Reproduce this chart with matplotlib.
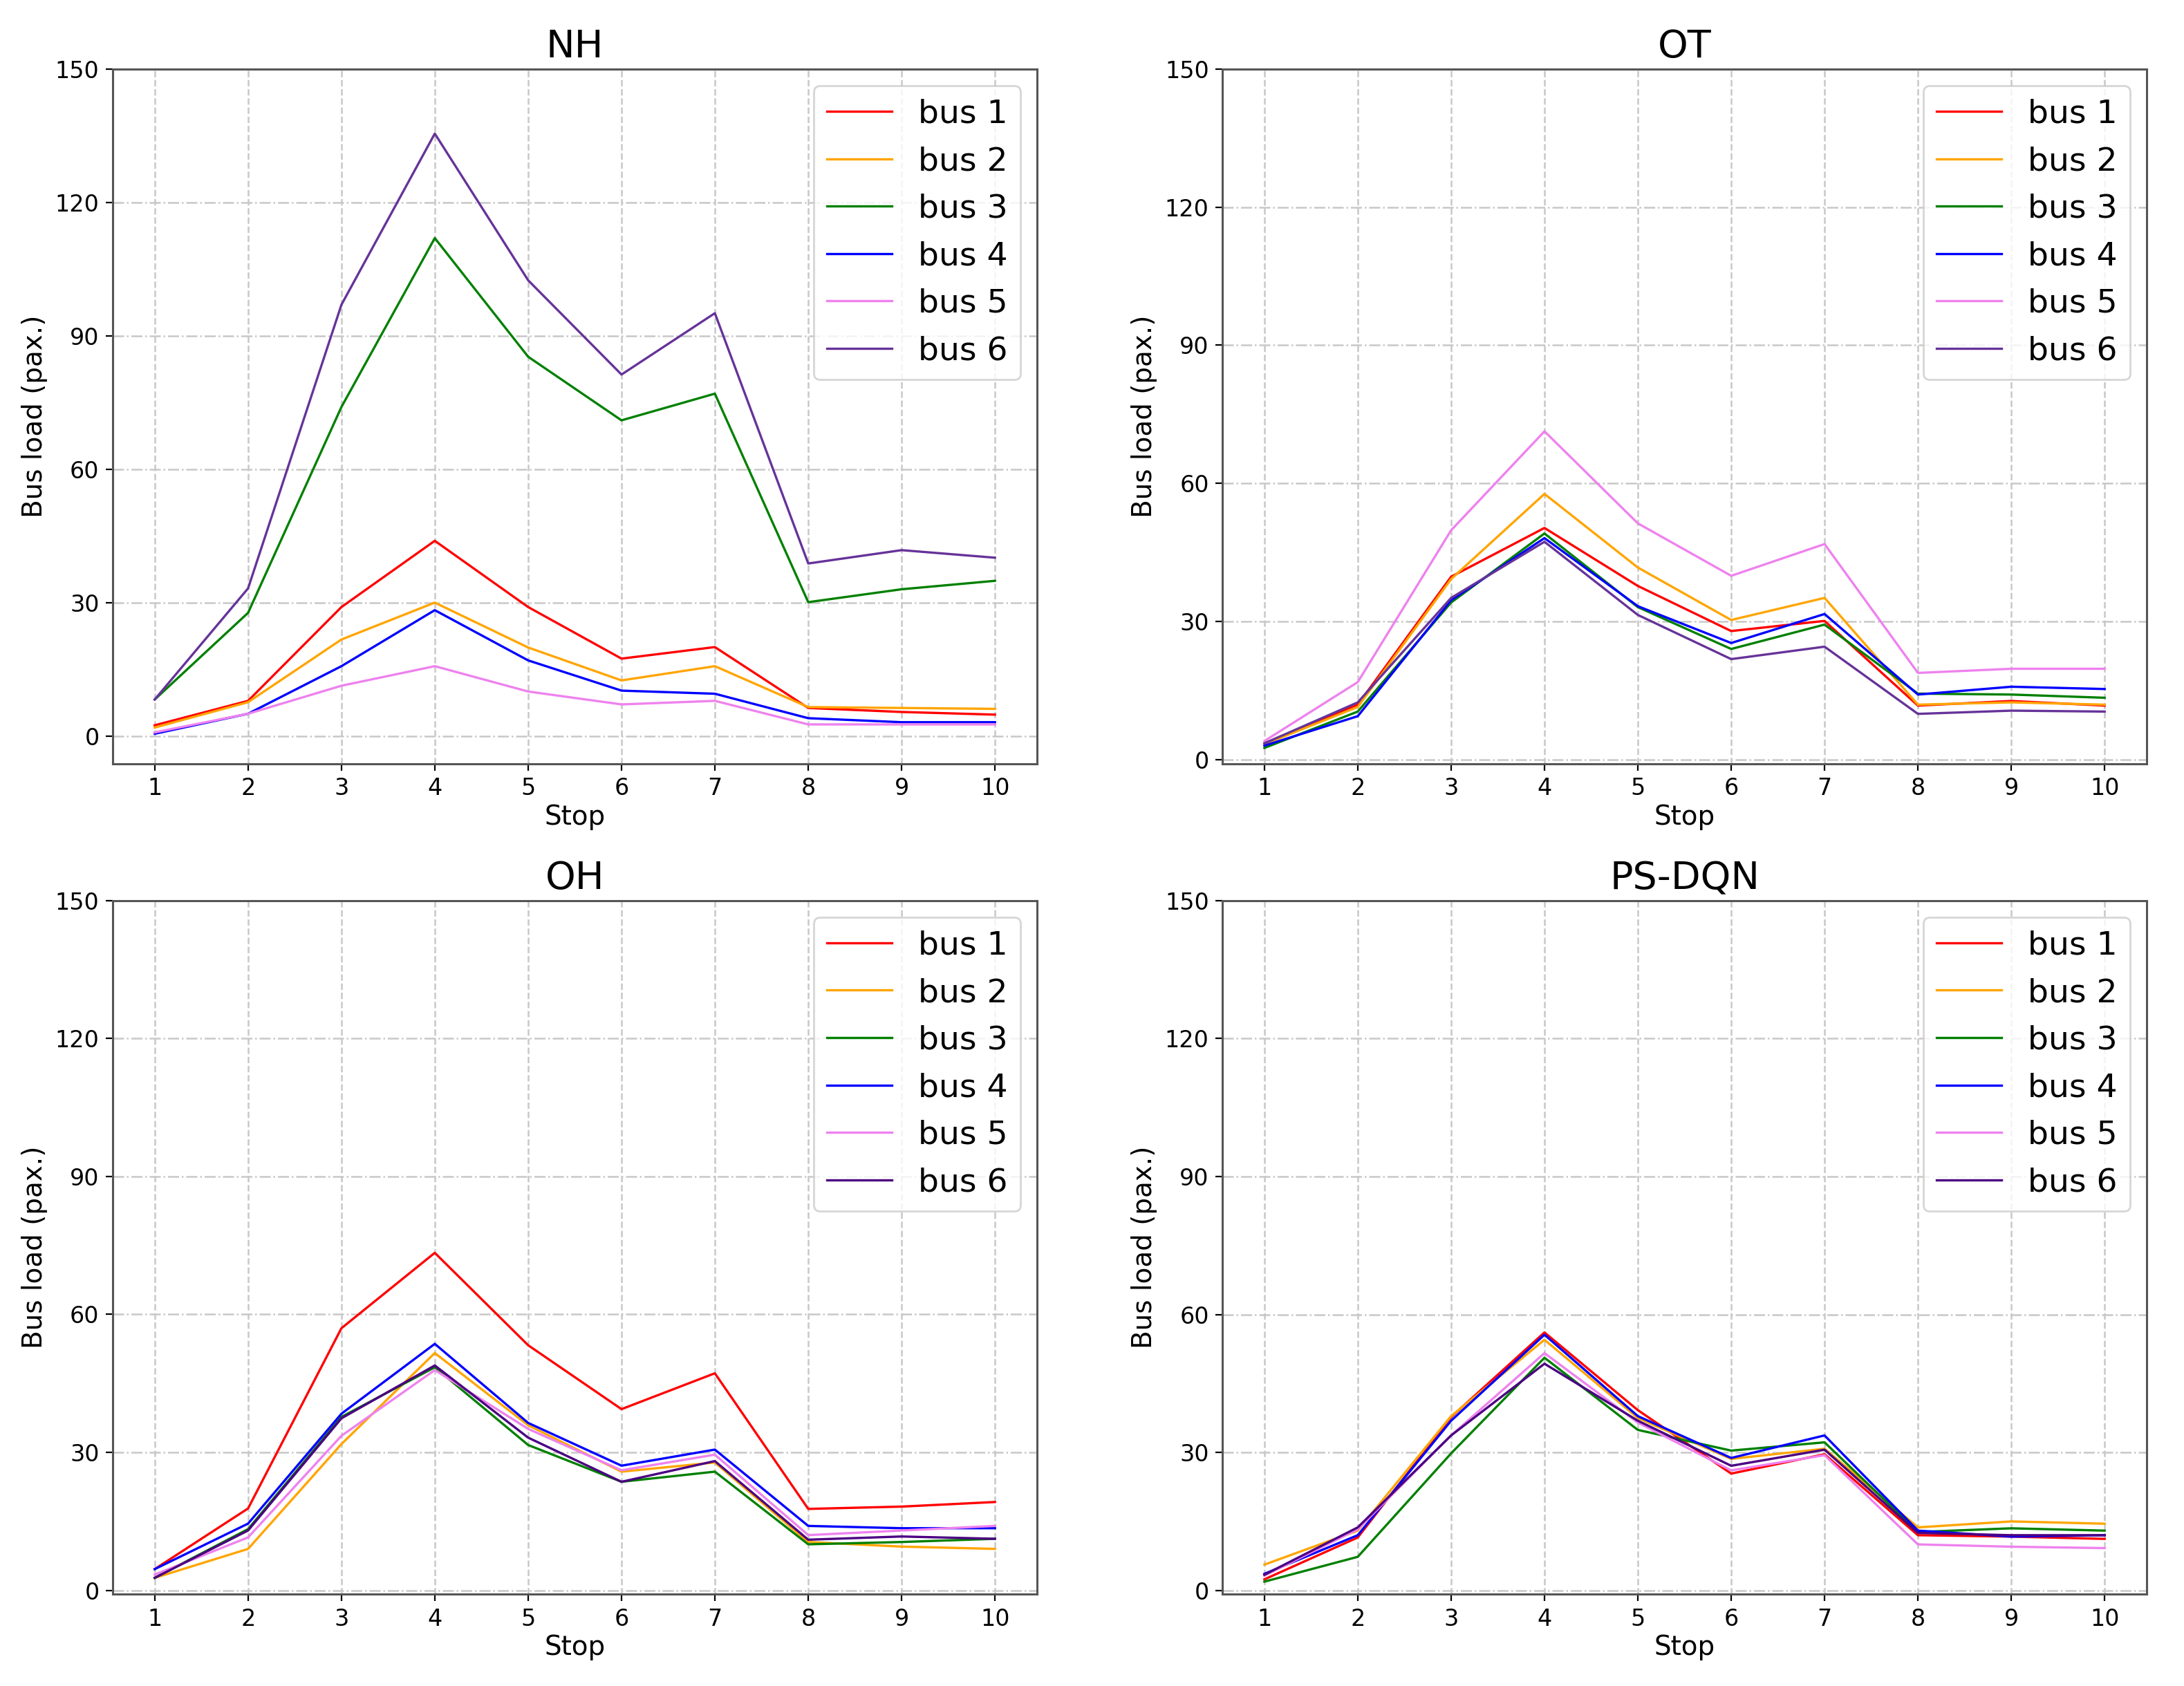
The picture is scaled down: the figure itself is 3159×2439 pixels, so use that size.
import matplotlib
matplotlib.use("Agg")
import matplotlib.pyplot as plt

stops = [1, 2, 3, 4, 5, 6, 7, 8, 9, 10]
bus_labels = ["bus 1", "bus 2", "bus 3", "bus 4", "bus 5", "bus 6"]
titles = ["NH", "OT", "OH", "PS-DQN"]
yticks = [0, 30, 60, 90, 120, 150]

nh_bus1 = [2.4, 7.9, 29.0, 43.9, 29.0, 17.4, 20.0, 6.3, 5.4, 4.8]
nh_bus2 = [1.9, 7.6, 21.7, 30.0, 19.9, 12.5, 15.7, 6.5, 6.3, 6.1]
nh_bus3 = [8.2, 27.7, 74.0, 112.0, 85.3, 71.0, 77.0, 30.1, 33.0, 34.9]
nh_bus4 = [0.5, 5.0, 15.7, 28.3, 17.0, 10.2, 9.5, 4.0, 3.1, 3.1]
nh_bus5 = [0.8, 5.0, 11.3, 15.7, 10.0, 7.1, 7.9, 2.6, 2.6, 2.6]
nh_bus6 = [8.2, 33.2, 97.0, 135.5, 102.5, 81.3, 95.1, 38.8, 41.8, 40.1]

ot_bus1 = [3.5, 11.9, 39.7, 50.3, 37.7, 27.9, 30.1, 11.7, 12.7, 11.7]
ot_bus2 = [3.3, 11.4, 39.2, 57.7, 41.7, 30.3, 35.1, 11.9, 12.4, 11.9]
ot_bus3 = [2.5, 10.4, 34.1, 49.1, 33.1, 24.0, 29.3, 14.3, 14.1, 13.4]
ot_bus4 = [3.0, 9.4, 34.6, 48.1, 33.3, 25.3, 31.6, 14.1, 15.8, 15.3]
ot_bus5 = [4.0, 16.8, 49.8, 71.3, 51.3, 39.9, 46.8, 18.8, 19.7, 19.7]
ot_bus6 = [3.5, 12.4, 35.1, 47.3, 31.4, 21.8, 24.5, 9.9, 10.6, 10.4]

oh_bus1 = [4.6, 17.8, 57.0, 73.4, 53.3, 39.4, 47.2, 17.7, 18.2, 19.2]
oh_bus2 = [2.7, 9.0, 31.8, 51.6, 35.9, 25.8, 27.8, 10.5, 9.5, 9.0]
oh_bus3 = [2.7, 13.3, 37.7, 48.5, 31.6, 23.6, 25.8, 10.0, 10.5, 11.2]
oh_bus4 = [4.6, 14.5, 38.4, 53.6, 36.4, 27.1, 30.6, 14.0, 13.5, 13.5]
oh_bus5 = [3.4, 11.5, 33.6, 47.9, 35.1, 26.1, 29.5, 12.0, 13.0, 14.0]
oh_bus6 = [2.7, 13.0, 37.4, 48.9, 33.2, 23.6, 28.1, 11.0, 11.7, 11.2]

ps_bus1 = [2.4, 11.5, 37.7, 56.1, 39.2, 25.4, 29.6, 12.0, 11.7, 11.2]
ps_bus2 = [5.6, 13.0, 37.9, 54.5, 37.5, 28.6, 30.8, 13.7, 15.0, 14.5]
ps_bus3 = [1.9, 7.3, 29.8, 50.6, 34.9, 30.4, 32.2, 12.7, 13.5, 13.0]
ps_bus4 = [3.6, 12.0, 36.9, 55.6, 37.9, 28.8, 33.7, 13.0, 11.7, 12.0]
ps_bus5 = [3.2, 13.3, 33.7, 51.6, 36.5, 26.1, 29.4, 10.0, 9.5, 9.2]
ps_bus6 = [3.4, 13.7, 33.7, 49.3, 36.9, 27.1, 30.6, 12.5, 12.0, 12.0]

panels = [
    [nh_bus1, nh_bus2, nh_bus3, nh_bus4, nh_bus5, nh_bus6],
    [ot_bus1, ot_bus2, ot_bus3, ot_bus4, ot_bus5, ot_bus6],
    [oh_bus1, oh_bus2, oh_bus3, oh_bus4, oh_bus5, oh_bus6],
    [ps_bus1, ps_bus2, ps_bus3, ps_bus4, ps_bus5, ps_bus6],
]
colors_top = ["red", "orange", "green", "blue", "violet", "rebeccapurple"]
colors_bottom = ["red", "orange", "green", "blue", "violet", "indigo"]

plt.rcParams['font.family'] = ['DejaVu Sans']
fig = plt.figure(figsize=(15.795, 12.195), dpi=200)

positions = [
    (0.0516, 0.547, 0.4232, 0.412),
    (0.5597, 0.547, 0.4232, 0.412),
    (0.0516, 0.0545, 0.4232, 0.4113),
    (0.5597, 0.0545, 0.4232, 0.4113),
]

for i, (series, title, pos) in enumerate(zip(panels, titles, positions)):
    ax = fig.add_axes(pos)
    cols = colors_top if i < 2 else colors_bottom
    for vals, lab, c in zip(series, bus_labels, cols):
        ax.plot(stops, vals, color=c, lw=1.2, label=lab)
    ax.set_ylim(top=150)
    ax.set_yticks(yticks)
    ax.set_xticks(stops)
    ax.xaxis.grid(True, linestyle='--', color='#c8c8c8', lw=0.9)
    ax.yaxis.grid(True, linestyle='-.', color='#c8c8c8', lw=0.9)
    ax.set_axisbelow(True)
    ax.tick_params(labelsize=12)
    for sp in ax.spines.values():
        sp.set_color('#555555')
        sp.set_linewidth(1.1)
    ax.set_title(title, fontsize=20)
    ax.set_xlabel("Stop", fontsize=14, labelpad=2)
    ax.set_ylabel("Bus load (pax.)", fontsize=14)
    ax.legend(loc='upper right', fontsize=17)

fig.savefig("out.png", dpi=200)
